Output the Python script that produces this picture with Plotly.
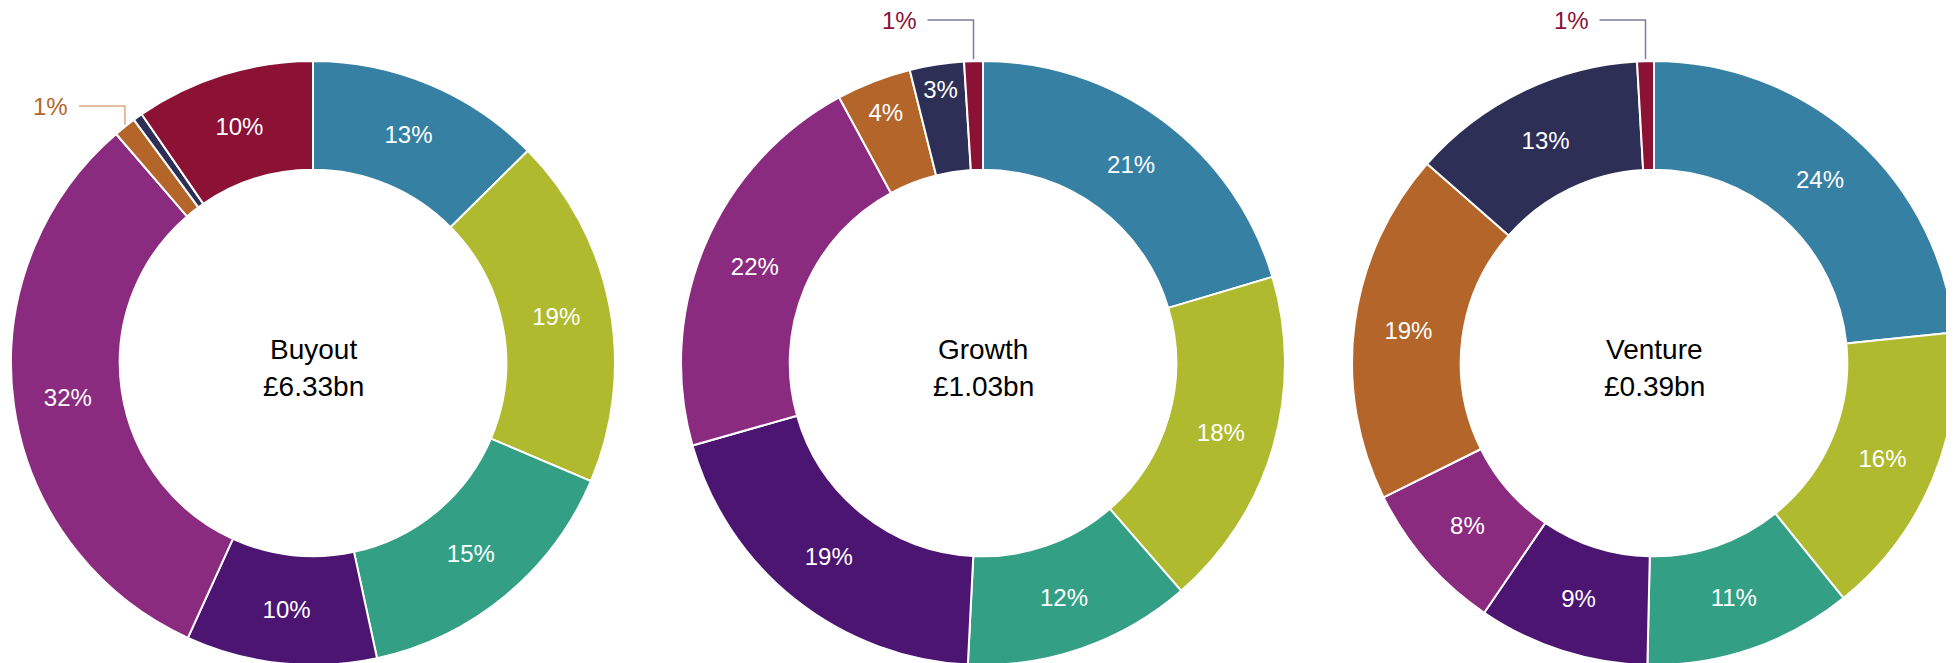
import math

import plotly.graph_objects as go

# Datos (porcentaje de cada categoría por tipo de fondo).
CATEGORIAS = ["Cat. 1", "Cat. 2", "Cat. 3", "Cat. 4", "Cat. 5", "Cat. 6", "Cat. 7", "Cat. 8"]
COLORES = ["#3680a3", "#afba2f", "#339f84", "#4c1572", "#8a2b80", "#b4652a", "#2e2f56", "#8b1135"]

FONDOS = ["Buyout", "Growth", "Venture"]
TOTALES = ["£6.33bn", "£1.03bn", "£0.39bn"]

BUYOUT = [12.6, 18.8, 15.2, 10.2, 31.9, 1.2, 0.5, 9.6]
GROWTH = [20.4, 18.2, 12.2, 19.8, 21.5, 4.0, 2.9, 1.0]
VENTURE = [23.5, 15.9, 11.2, 9.2, 8.2, 18.9, 12.7, 0.9]

# Etiquetas mostradas (None = sin etiqueta)
BUYOUT_PCT = [13, 19, 15, 10, 32, 1, None, 10]
GROWTH_PCT = [21, 18, 12, 19, 22, 4, 3, 1]
VENTURE_PCT = [24, 16, 11, 9, 8, 19, 13, 1]

# Índice de la rebanada cuya etiqueta va fuera con línea guía
LLAMADAS = [5, 7, 7]

W, H = 1954, 663

# El navegador deja 8 px de margen en el <body>, así que lo descontamos.
MARGEN_BODY = 8

FUENTE = "Liberation Sans, Arial, Helvetica"


def main():
    valores = [BUYOUT, GROWTH, VENTURE]
    pcts = [BUYOUT_PCT, GROWTH_PCT, VENTURE_PCT]

    centros_x = [c - MARGEN_BODY for c in (313, 983, 1654)]
    centro_y = 363 - MARGEN_BODY
    radio = 302
    linea_y = [106 - MARGEN_BODY, 20 - MARGEN_BODY, 20 - MARGEN_BODY]
    color_linea = ["#dba983", "#7b7c98", "#7b7c98"]

    fig = go.Figure()
    anotaciones = []
    formas = []

    for i, fondo in enumerate(FONDOS):
        vals = valores[i]
        textos = []
        for j, p in enumerate(pcts[i]):
            if p is None or j == LLAMADAS[i]:
                textos.append("")
            else:
                textos.append(f"{p}%")

        cx = centros_x[i]
        x0 = max(cx - radio, 0) / W
        x1 = min(cx + radio, W) / W
        y0 = 1 - (centro_y + radio) / H
        y1 = 1 - (centro_y - radio) / H

        fig.add_trace(
            go.Pie(
                labels=CATEGORIAS,
                values=vals,
                text=textos,
                textinfo="text",
                textposition="inside",
                insidetextorientation="horizontal",
                textfont=dict(color="white", size=24, family=FUENTE),
                marker=dict(colors=COLORES, line=dict(color="white", width=2)),
                hole=0.64,
                sort=False,
                direction="clockwise",
                rotation=0,
                domain=dict(x=[x0, x1], y=[max(y0, 0), min(y1, 1)]),
                hoverinfo="label+percent",
            )
        )

        # Texto central (dos renglones)
        anotaciones.append(dict(
            x=cx / W, y=1 - centro_y / H, xref="paper", yref="paper",
            xanchor="center", yanchor="middle",
            text=fondo, showarrow=False, yshift=14,
            font=dict(size=28, color="black", family=FUENTE),
        ))
        anotaciones.append(dict(
            x=cx / W, y=1 - centro_y / H, xref="paper", yref="paper",
            xanchor="center", yanchor="middle",
            text=TOTALES[i], showarrow=False, yshift=-23,
            font=dict(size=28, color="black", family=FUENTE),
        ))

        # Etiqueta externa con línea guía
        k = LLAMADAS[i]
        total = sum(vals)
        medio = (sum(vals[:k]) + vals[k] / 2) / total
        ang = 2 * math.pi * medio
        px = cx + radio * math.sin(ang)
        py = centro_y - radio * math.cos(ang) - 2
        ly = linea_y[i]
        path = (f"M {px / W},{1 - py / H} L {px / W},{1 - ly / H} "
                f"L {(px - 46) / W},{1 - ly / H}")
        formas.append(dict(
            type="path", path=path, xref="paper", yref="paper",
            line=dict(color=color_linea[i], width=1.5),
        ))
        anotaciones.append(dict(
            x=(px - 55) / W, y=1 - ly / H, xref="paper", yref="paper",
            xanchor="right", yanchor="middle", showarrow=False,
            text=f"{pcts[i][k]}%",
            font=dict(size=24, color=COLORES[k], family=FUENTE),
        ))

    fig.update_layout(
        width=W,
        height=H,
        showlegend=False,
        margin=dict(l=0, r=0, t=0, b=0),
        paper_bgcolor="white",
        plot_bgcolor="white",
        annotations=anotaciones,
        shapes=formas,
    )

    fig.write_html("out.html")


if __name__ == "__main__":
    main()
